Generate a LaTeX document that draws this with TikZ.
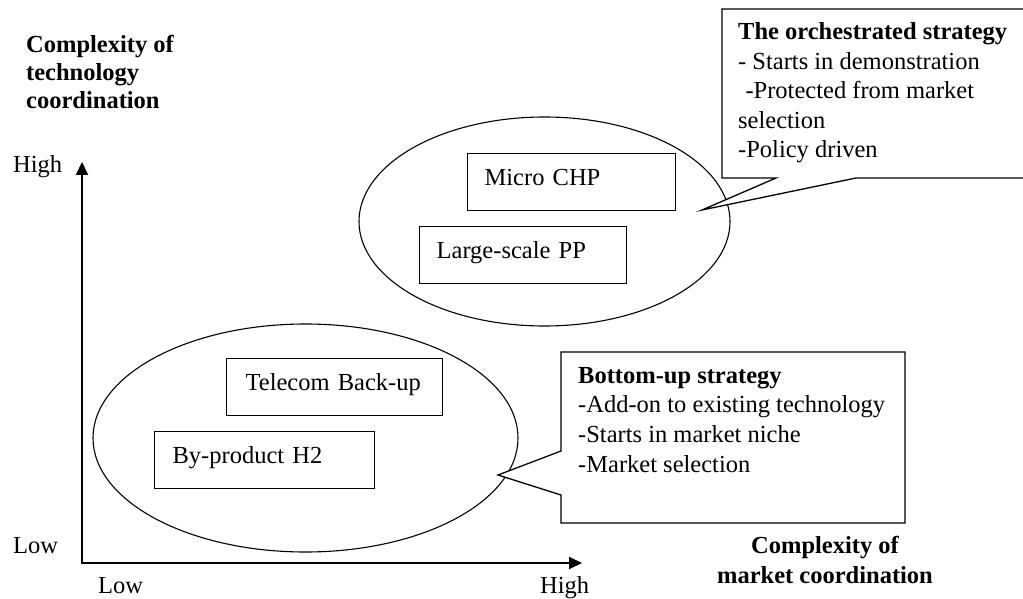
\documentclass[tikz,border=0pt]{standalone}
\usepackage{fontspec}
\setmainfont{Liberation Serif}
\usetikzlibrary{shapes.geometric,arrows.meta}
\begin{document}
\begin{tikzpicture}[x=1pt,y=-1pt,
  every node/.style={font=\fontsize{24.5}{29.6}\selectfont, inner sep=0pt},
  lbl/.style={anchor=base west},
  tbox/.style={draw, line width=1.3pt, anchor=north west, inner ysep=0pt,
    text height=32pt, text depth=25pt, align=left},
  ell/.style={draw, ellipse, inner sep=0pt, line width=1.1pt},
  callout/.style={draw, fill=white, line width=1.3pt, line join=miter},
  axis/.style={line width=2pt, {Triangle[width=12pt,length=13pt]}-{Triangle[width=12pt,length=13pt]}}
]
\useasboundingbox (0,0) rectangle (1023,599);

% ellipses
\node[ell, minimum width=371pt, minimum height=209pt] (topell) at (544.5,221.5) {};
\node[ell, minimum width=425pt, minimum height=228pt] (botell) at (305.5,438) {};

% technology boxes
\node[tbox, inner xsep=17pt, text width=174pt] (micro) at (467,153) {Micro CHP};
\node[tbox, inner xsep=17pt, text width=173pt] (large) at (419,226) {Large-scale PP};
\node[tbox, inner xsep=19pt, text width=178pt] (telecom) at (226,358) {Telecom Back-up};
\node[tbox, inner xsep=18pt, text width=184pt] (byprod) at (154,431) {By-product H2};

% callouts
\draw[callout] (1024,9) -- (722,9) -- (722,178) -- (776,178) -- (702,210) -- (856,178) -- (1024,178);
\draw[callout] (561,352) -- (905,352) -- (905,523) -- (561,523) -- (561,495) -- (498,475) -- (561,451) -- cycle;

% multi-line nodes: base anchor = baseline of the last line
\node[lbl, align=left] (orch) at (738,158) {\textbf{The orchestrated strategy}\\- Starts in demonstration\\\hspace*{0.3em}-Protected from market\\selection\\-Policy driven};
\node[lbl, align=left] (bottomup) at (578,472) {\textbf{Bottom-up strategy}\\-Add-on to existing technology\\-Starts in market niche\\-Market selection};

% axes
\coordinate (origin) at (82,563);
\coordinate (ytip) at (82,162);
\coordinate (xtip) at (582,563);
\draw[axis] (ytip) -- (origin) -- (xtip);

\node[lbl] (yhigh) at (13,172) {High};
\node[lbl] (ylow) at (13,553) {Low};
\node[lbl] (xlow) at (98,593) {Low};
\node[lbl] (xhigh) at (540,593) {High};

\node[lbl, align=left, font=\fontsize{24.5}{27.8}\selectfont\bfseries] (ytitle) at (26,108.5) {Complexity of\\technology\\coordination};
\node[anchor=base, align=center, font=\fontsize{24.5}{30}\selectfont\bfseries] (xtitle) at (825,583) {Complexity of\\market coordination};
\end{tikzpicture}
\end{document}
